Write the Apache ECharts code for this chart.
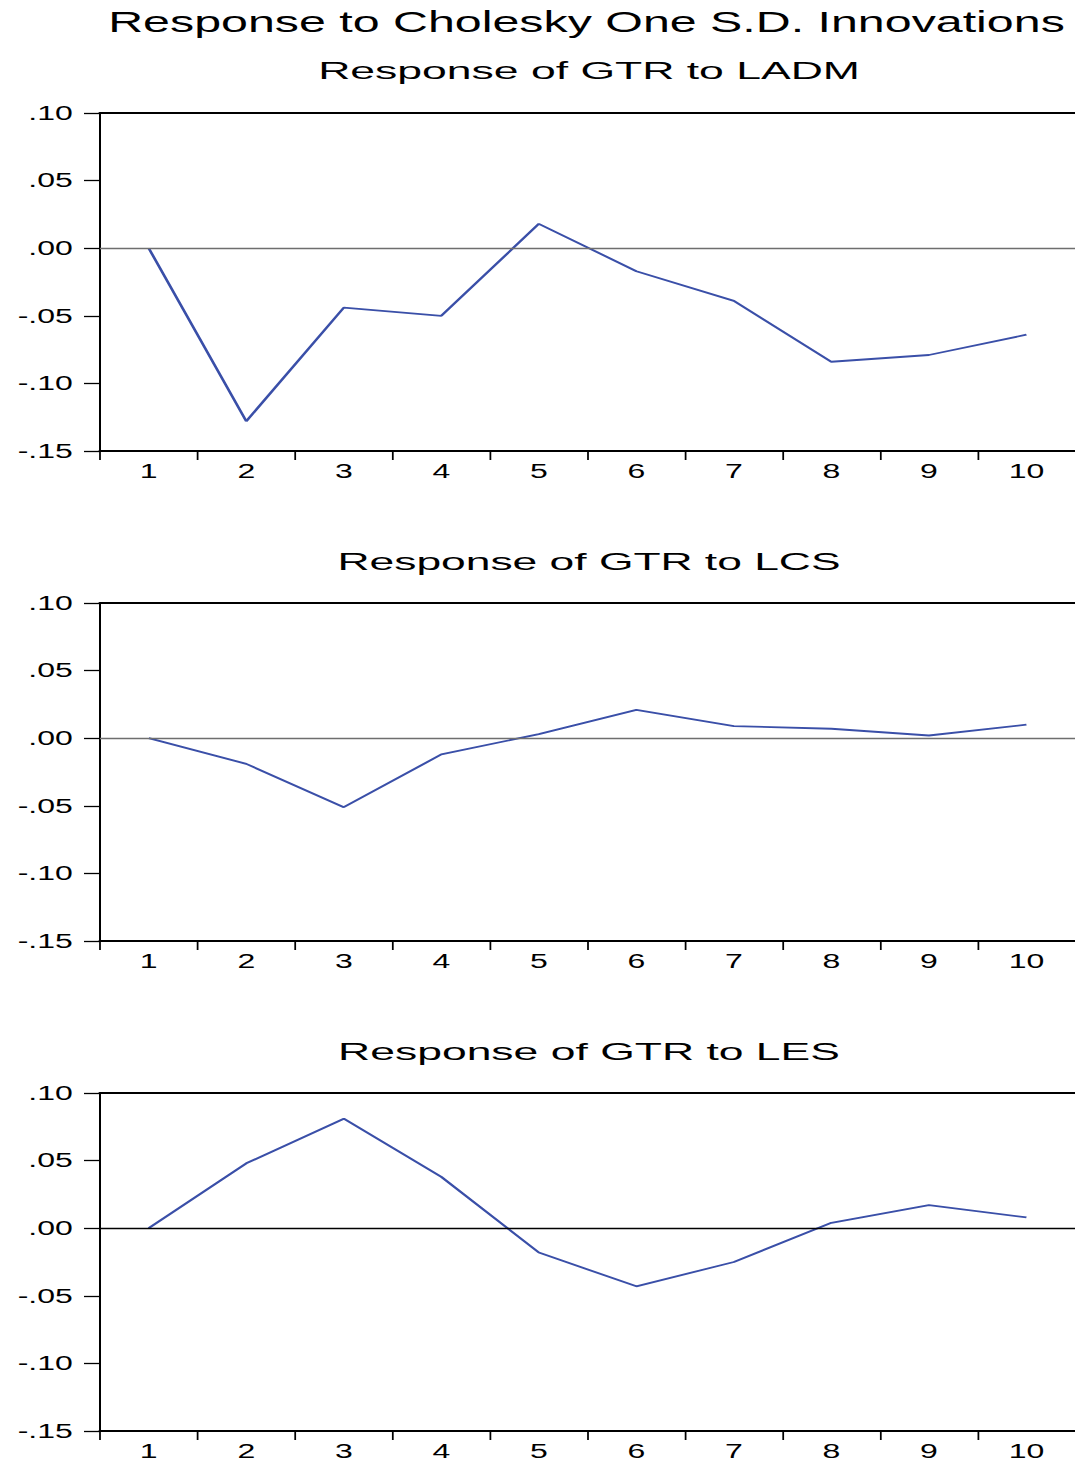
<!DOCTYPE html>
<html>
<head>
<meta charset="utf-8">
<title>Response to Cholesky One S.D. Innovations</title>
<script src="https://cdn.jsdelivr.net/npm/echarts@6.0.0/dist/echarts.min.js"></script>
<style>
    html, body { margin: 0; padding: 0; background: #fff; overflow: hidden; }
    /* the reference is stretched sideways, so draw narrow and stretch the whole chart */
    #irf { width: 671.875px; height: 1467px; transform: scaleX(1.6); transform-origin: 0 0; }
</style>
</head>
<body>
<div id="irf"></div>
<script>
var periods = ['1', '2', '3', '4', '5', '6', '7', '8', '9', '10'];
var yTickLabels = ['-.15', '-.10', '-.05', '.00', '.05', '.10'];
var mainTitle = 'Response to Cholesky One S.D. Innovations';
var panelTitles = ['Response of GTR to LADM', 'Response of GTR to LCS', 'Response of GTR to LES'];

var gtrToLADM = [0.000, -0.128, -0.044, -0.050, 0.018, -0.017, -0.039, -0.084, -0.079, -0.064];
var gtrToLCS = [0.000, -0.019, -0.051, -0.012, 0.003, 0.021, 0.009, 0.007, 0.002, 0.010];
var gtrToLES = [0.000, 0.048, 0.081, 0.038, -0.018, -0.043, -0.025, 0.004, 0.017, 0.008];

var responses = [gtrToLADM, gtrToLCS, gtrToLES];

var irfChart = {
    SX: 1.6,
    font: '"Liberation Sans", Arial, sans-serif',
    init: function () {
        var that = this
        that.draw()
    },
    // horizontal squeeze/stretch for a title so it spans the wanted width on screen
    fitScale: function (text, size, target) {
        var ctx = document.createElement('canvas').getContext('2d');
        ctx.font = size + 'px "Liberation Sans"';
        var w = ctx.measureText(text).width || 1;
        return target / this.SX / w;
    },
    draw: function () {
        var that = this
        var SX = that.SX
        var myChart = echarts.init(document.getElementById('irf'), null, {renderer: 'svg'});
        var grids = [], xAxes = [], yAxes = [], series = [], graphics = [];
        var tops = [113, 603, 1093];
        var zeroColors = ['#6e6e6e', '#6e6e6e', '#000'];
        var titleY = [71, 562, 1052];
        var titleW = [542, 503, 502];

        graphics.push({
            type: 'text',
            x: 586.5 / SX,
            y: 22,
            scaleX: that.fitScale(mainTitle, 29, 957),
            style: {
                text: mainTitle,
                textAlign: 'center',
                textVerticalAlign: 'middle',
                fontSize: 29,
                fontFamily: that.font,
                fill: '#000'
            }
        });

        for (var i = 0; i < 3; i++) {
            grids.push({left: 100 / SX, right: -2, top: tops[i], height: 338, containLabel: false});
            graphics.push({
                type: 'text',
                x: 589 / SX,
                y: titleY[i],
                scaleX: that.fitScale(panelTitles[i], 23, titleW[i]),
                style: {
                    text: panelTitles[i],
                    textAlign: 'center',
                    textVerticalAlign: 'middle',
                    fontSize: 23,
                    fontFamily: that.font,
                    fill: '#000'
                }
            });
            // bottom axis with the periods
            xAxes.push({
                type: 'category',
                gridIndex: i,
                position: 'bottom',
                data: periods,
                boundaryGap: true,
                axisLine: {onZero: false, lineStyle: {color: '#000', width: 2}},
                axisTick: {show: true, length: 9, lineStyle: {color: '#000', width: 1.1}},
                axisLabel: {
                    color: '#000',
                    fontSize: 20,
                    fontFamily: that.font,
                    margin: 10
                },
                splitLine: {show: false}
            });
            // top frame line
            xAxes.push({
                type: 'category',
                gridIndex: i,
                position: 'top',
                data: periods,
                boundaryGap: true,
                axisLine: {onZero: false, lineStyle: {color: '#000', width: 2}},
                axisTick: {show: false},
                axisLabel: {show: false},
                splitLine: {show: false}
            });
            yAxes.push({
                type: 'value',
                gridIndex: i,
                min: -0.15,
                max: 0.10,
                interval: 0.05,
                axisLine: {show: true, onZero: false, lineStyle: {color: '#000', width: 1.25}},
                axisTick: {show: true, length: 10, lineStyle: {color: '#000', width: 1.3}},
                axisLabel: {
                    color: '#000',
                    fontSize: 20,
                    fontFamily: that.font,
                    margin: 17,
                    formatter: function (value, index) {
                        return yTickLabels[index];
                    }
                },
                splitLine: {show: false}
            });
            series.push({
                name: panelTitles[i],
                type: 'line',
                xAxisIndex: i * 2,
                yAxisIndex: i,
                data: responses[i],
                symbol: 'none',
                lineStyle: {color: '#3a4fa8', width: 1.8},
                markLine: {
                    silent: true,
                    symbol: ['none', 'none'],
                    label: {show: false},
                    lineStyle: {color: zeroColors[i], width: 1.4, type: 'solid'},
                    data: [{yAxis: 0}]
                },
                z: 3
            });
        }

        var option = {
            animation: false,
            backgroundColor: '#fff',
            grid: grids,
            xAxis: xAxes,
            yAxis: yAxes,
            series: series,
            graphic: graphics
        };
        myChart.setOption(option);
    }
}
irfChart.init()
</script>
</body>
</html>
